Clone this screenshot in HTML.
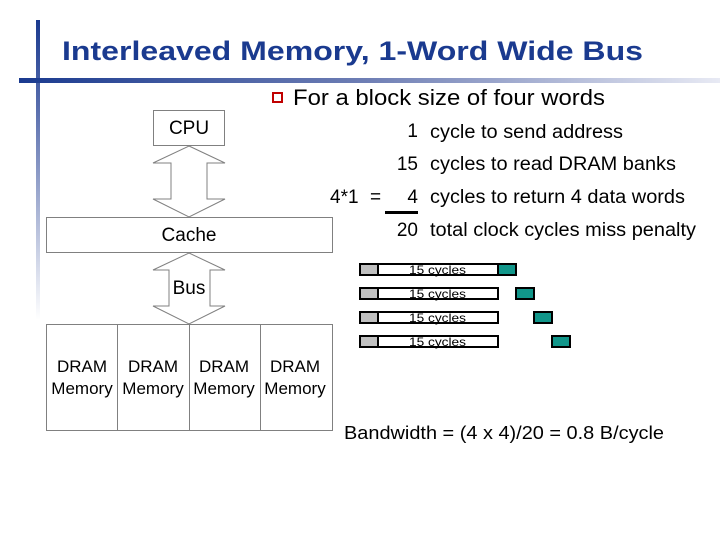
<!DOCTYPE html>
<html><head><meta charset="utf-8"><style>
html,body{margin:0;padding:0;background:#fff;}
svg{display:block;font-family:"Liberation Sans",Arial,sans-serif;}
</style></head><body>
<svg width="720" height="540" viewBox="0 0 720 540" xmlns="http://www.w3.org/2000/svg">
<defs>
<linearGradient id="hg" x1="0" x2="1" y1="0" y2="0">
<stop offset="0" stop-color="#1a3a8f"/><stop offset="0.5" stop-color="#6f7fb5"/><stop offset="1" stop-color="#e8eaf4"/>
</linearGradient>
<linearGradient id="vg" x1="0" x2="0" y1="0" y2="1">
<stop offset="0" stop-color="#1a3a8f"/><stop offset="0.3" stop-color="#5a6fae"/><stop offset="1" stop-color="#ffffff"/>
</linearGradient>
</defs>
<rect x="36" y="20" width="4" height="300" fill="url(#vg)"/>
<rect x="19" y="78" width="701" height="5" fill="url(#hg)"/>
<text x="62" y="60" font-size="27" font-weight="bold" fill="#1a3a8f" textLength="581" lengthAdjust="spacingAndGlyphs">Interleaved Memory, 1-Word Wide Bus</text>
<rect x="273" y="93" width="9" height="9" fill="#fff" stroke="#c00000" stroke-width="2"/>
<text x="293" y="105" font-size="22" textLength="312" lengthAdjust="spacingAndGlyphs">For a block size of four words</text>
<g font-size="19">
<text x="418" y="137" text-anchor="end">1</text>
<text x="430" y="138" textLength="193" lengthAdjust="spacingAndGlyphs">cycle to send address</text>
<text x="418" y="170" text-anchor="end">15</text>
<text x="430" y="170" textLength="246" lengthAdjust="spacingAndGlyphs">cycles to read DRAM banks</text>
<text x="330" y="203">4*1</text>
<text x="370" y="203">=</text>
<text x="418" y="203" text-anchor="end">4</text>
<text x="430" y="203" textLength="255" lengthAdjust="spacingAndGlyphs">cycles to return 4 data words</text>
<text x="418" y="236" text-anchor="end">20</text>
<text x="430" y="236" textLength="266" lengthAdjust="spacingAndGlyphs">total clock cycles miss penalty</text>
</g>
<rect x="385" y="211" width="33" height="3" fill="#000"/>
<g stroke="#808080" stroke-width="1" fill="#fff">
<rect x="153.5" y="110.5" width="71" height="35"/>
<polygon points="189,146 225,163 207,163 207,199 225,199 189,217 153,199 171,199 171,163 153,163"/>
<rect x="46.5" y="217.5" width="286" height="35"/>
<polygon points="189,253 225,270 210,270 210,306 225,306 189,324 153,306 169,306 169,270 153,270"/>
<rect x="46.5" y="324.5" width="286" height="106"/>
<line x1="117.5" y1="324" x2="117.5" y2="431"/>
<line x1="189.5" y1="324" x2="189.5" y2="431"/>
<line x1="260.5" y1="324" x2="260.5" y2="431"/>
</g>
<g font-size="19" text-anchor="middle">
<text x="189" y="134">CPU</text>
<text x="189" y="241">Cache</text>
<text x="189" y="294">Bus</text>
</g>
<g font-size="17" text-anchor="middle">
<text x="82" y="372">DRAM</text><text x="82" y="394">Memory</text>
<text x="153" y="372">DRAM</text><text x="153" y="394">Memory</text>
<text x="224" y="372">DRAM</text><text x="224" y="394">Memory</text>
<text x="295" y="372">DRAM</text><text x="295" y="394">Memory</text>
</g>
<g stroke="#000" stroke-width="2">
<rect x="360" y="264" width="18" height="11" fill="#c0c0c0"/><rect x="378" y="264" width="120" height="11" fill="#fff"/><rect x="498" y="264" width="18" height="11" fill="#11968a"/>
<rect x="360" y="288" width="18" height="11" fill="#c0c0c0"/><rect x="378" y="288" width="120" height="11" fill="#fff"/><rect x="516" y="288" width="18" height="11" fill="#11968a"/>
<rect x="360" y="312" width="18" height="11" fill="#c0c0c0"/><rect x="378" y="312" width="120" height="11" fill="#fff"/><rect x="534" y="312" width="18" height="11" fill="#11968a"/>
<rect x="360" y="336" width="18" height="11" fill="#c0c0c0"/><rect x="378" y="336" width="120" height="11" fill="#fff"/><rect x="552" y="336" width="18" height="11" fill="#11968a"/>
</g>
<g font-size="12">
<text x="409" y="274" textLength="57" lengthAdjust="spacingAndGlyphs">15 cycles</text>
<text x="409" y="298" textLength="57" lengthAdjust="spacingAndGlyphs">15 cycles</text>
<text x="409" y="322" textLength="57" lengthAdjust="spacingAndGlyphs">15 cycles</text>
<text x="409" y="346" textLength="57" lengthAdjust="spacingAndGlyphs">15 cycles</text>
</g>
<text x="344" y="439" font-size="18" textLength="320" lengthAdjust="spacingAndGlyphs">Bandwidth = (4 x 4)/20 = 0.8 B/cycle</text>
</svg>
</body></html>
